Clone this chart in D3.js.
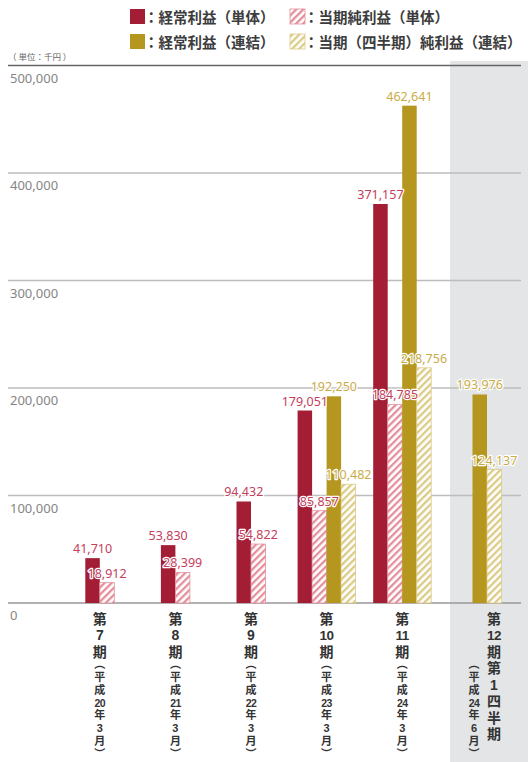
<!DOCTYPE html>
<html><head><meta charset="utf-8">
<script src="https://cdn.jsdelivr.net/npm/d3@7"></script>
<style>
html,body{margin:0;padding:0;background:#fff;}
svg{display:block;font-family:"Noto Sans CJK JP","Noto Sans",sans-serif;}
.xl{font-family:"Liberation Sans","Noto Sans CJK JP",sans-serif;}
</style></head>
<body><svg id="c" width="528" height="762"></svg>
<script>
// ---- data ----
const annualPeriods = ["7", "8", "9", "10", "11"];
const quarterPeriods = ["12"];
const keijoTantai = [41710, 53830, 94432, 179051, 371157];      // 経常利益（単体）
const junTantai   = [18912, 28399, 54822, 85857, 184785];       // 当期純利益（単体）
const keijoRenketsu = [null, null, null, 192250, 462641, 193976]; // 経常利益（連結）
const junRenketsu   = [null, null, null, 110482, 218756, 124137]; // 当期（四半期）純利益（連結）
const yTicks = [0, 100000, 200000, 300000, 400000, 500000];
const xMainLabels = [["第","7","期"],["第","8","期"],["第","9","期"],["第","10","期"],["第","11","期"],["第","12","期","第","1","四","半","期"]];
const xSubLabels = [["︵","平","成","20","年","3","月","︶"],["︵","平","成","21","年","3","月","︶"],["︵","平","成","22","年","3","月","︶"],["︵","平","成","23","年","3","月","︶"],["︵","平","成","24","年","3","月","︶"],["︵","平","成","24","年","6","月","︶"]];
const legendItems = [
  {label:"：経常利益（単体）", key:"redSolid"},
  {label:"：当期純利益（単体）", key:"redHatch"},
  {label:"：経常利益（連結）", key:"goldSolid"},
  {label:"：当期（四半期）純利益（連結）", key:"goldHatch"}
];

// ---- style ----
const RED = "#a31d35", GOLD = "#b5961e";
const RED_H = "#e4909c", GOLD_H = "#dccb86";
const RED_T = "#c4405c", GOLD_T = "#c9ac48";

const svg = d3.select("#c");
const defs = svg.append("defs");
function hatch(id, color){
  const p = defs.append("pattern").attr("id", id).attr("patternUnits","userSpaceOnUse")
    .attr("width",5).attr("height",5).attr("patternTransform","rotate(45)");
  p.append("rect").attr("width",5).attr("height",5).attr("fill","#fff");
  p.append("rect").attr("x",0).attr("y",0).attr("width",2.3).attr("height",5).attr("fill",color);
}
hatch("hRed", RED_H); hatch("hGold", GOLD_H);
const fills = {redSolid:RED, redHatch:"url(#hRed)", goldSolid:GOLD, goldHatch:"url(#hGold)"};
const strokes = {redSolid:"none", redHatch:RED_H, goldSolid:"none", goldHatch:GOLD_H};

// scales
const y = d3.scaleLinear().domain([0, 500000]).range([603, 65.5]);
const xA = d3.scaleBand().domain(annualPeriods).range([62, 440]);
const panel = {x0:450, x1:528};
const xQ = d3.scaleBand().domain(quarterPeriods).range([446, 528]);
const barW = 14.5;

// shaded quarter panel
svg.append("rect").attr("x", panel.x0).attr("y", 61).attr("width", panel.x1-panel.x0).attr("height", 762-61).attr("fill", "#e3e5e7");

// unit label
svg.append("text").attr("x", 8).attr("y", 60).attr("font-size", 8.5).attr("fill", "#666").text("（ 単位：千円 ）");

// gridlines
yTicks.forEach(t => {
  const top = t === 500000;
  svg.append("line").attr("x1", 8).attr("x2", 521).attr("y1", y(t)).attr("y2", y(t))
    .attr("stroke", top ? "#666" : (t===0 ? "#999" : "#bdbdbd")).attr("stroke-width", 1.6);
  svg.append("text").attr("x", 10).attr("y", y(t) + 17).attr("font-family","'Noto Sans',sans-serif")
    .attr("font-size", 13).attr("fill", "#858585").text(d3.format(",")(t));
});

// bars
const cats = annualPeriods.concat(quarterPeriods);
const bars = [];
cats.forEach((c, i) => {
  const series = [];
  if (i < keijoTantai.length) { series.push({key:"redSolid", v:keijoTantai[i], tc:RED_T}); series.push({key:"redHatch", v:junTantai[i], tc:RED_T}); }
  if (keijoRenketsu[i] != null) { series.push({key:"goldSolid", v:keijoRenketsu[i], tc:GOLD_T}); series.push({key:"goldHatch", v:junRenketsu[i], tc:GOLD_T}); }
  const center = i < annualPeriods.length ? xA(c) + xA.bandwidth()/2 : xQ(c) + xQ.bandwidth()/2;
  const x0 = center - series.length * barW / 2;
  series.forEach((s, j) => bars.push({x: x0 + j*barW, ...s}));
});
svg.append("g").selectAll("rect").data(bars).join("rect")
  .attr("x", d => d.x).attr("width", barW).attr("y", d => y(d.v)).attr("height", d => y(0) - y(d.v))
  .attr("fill", d => fills[d.key]).attr("stroke", d => strokes[d.key]).attr("stroke-width", 0.8);

svg.append("g").selectAll("text").data(bars).join("text")
  .attr("x", d => d.x + barW/2).attr("y", d => y(d.v) - 5).attr("text-anchor", "middle")
  .attr("font-family","'Noto Sans',sans-serif").attr("font-size", 12.5)
  .attr("fill", d => d.tc).attr("stroke", "#fff").attr("stroke-width", 2.5).attr("paint-order", "stroke")
  .attr("stroke-linejoin","round")
  .text(d => d3.format(",")(d.v));

// x labels (vertical stacked)
cats.forEach((c, i) => {
  const isQ = i >= annualPeriods.length;
  const center = isQ ? xQ(c) + xQ.bandwidth()/2 : xA(c) + xA.bandwidth()/2;
  const mainX = isQ ? center + 7 : center;
  const subX = isQ ? center - 13 : center;
  xMainLabels[i].forEach((ch, k) => {
    svg.append("text").attr("class","xl").attr("x", mainX).attr("y", 623.5 + k*16.5).attr("text-anchor","middle")
      .attr("font-size", ch.length > 1 ? 13.5 : 14).attr("font-weight", 700).attr("fill", "#333")
      .attr("letter-spacing", ch.length > 1 ? -0.5 : 0)
      .text(ch);
  });
  xSubLabels[i].forEach((ch, k) => {
    svg.append("text").attr("class","xl").attr("x", subX).attr("y", 668 + k*12.85).attr("text-anchor","middle")
      .attr("font-size", ch.length > 1 ? 10.5 : 11).attr("font-weight", 700).attr("fill", "#333")
      .attr("letter-spacing", ch.length > 1 ? -0.6 : 0)
      .text(ch);
  });
});

// legend
legendItems.forEach((d, i) => {
  const col = i % 2, row = Math.floor(i / 2);
  const lx = col === 0 ? 130 : 290, ly = 9 + row * 25;
  svg.append("rect").attr("x", lx).attr("y", ly).attr("width", 15).attr("height", 15)
    .attr("fill", fills[d.key]).attr("stroke", strokes[d.key]).attr("stroke-width", 0.8);
  svg.append("text").attr("x", lx + 14).attr("y", ly + 13.5).attr("font-size", 14.5).attr("font-weight", 700)
    .attr("fill", "#3c3c3c").text(d.label);
});
</script></body></html>
